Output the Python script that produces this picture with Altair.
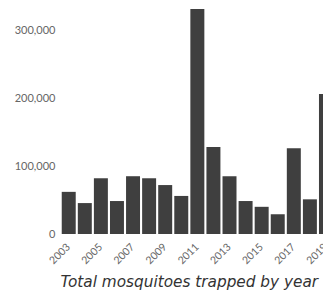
import altair as alt
import pandas as pd

years = [str(y) for y in range(2003, 2020)]
totals = [62000, 45500, 82000, 48500, 85000, 82000, 72000, 56000, 331000,
          128000, 85000, 48500, 40000, 29000, 126000, 51000, 206000]
x_label_values = [str(y) for y in range(2003, 2020, 2)]
y_tick_values = [0, 100000, 200000, 300000]
title_text = "Total mosquitoes trapped by year"

df = pd.DataFrame({"year": years, "total": totals})

chart = alt.Chart(df).mark_bar(color="#3f3f3f", clip=True).encode(
    x=alt.X(
        "year:O",
        scale=alt.Scale(paddingInner=0.13, paddingOuter=0.17, range=[0, 276.7]),
        axis=alt.Axis(
            values=x_label_values,
            labelAngle=-45,
            labelAlign="right",
            labelBaseline="middle",
            labelFont="Lato",
            labelFontSize=10.5,
            labelColor="#666",
            labelPadding=11,
            ticks=False,
            domain=False,
            title=title_text,
            titleFont="DejaVu Sans",
            titleFontStyle="italic",
            titleFontWeight="normal",
            titleFontSize=15.3,
            titleColor="#333",
            titleAnchor="start",
            titleAlign="left",
            titleBaseline="alphabetic",
            titleX=1,
            titleY=52,
        ),
    ),
    y=alt.Y(
        "total:Q",
        scale=alt.Scale(nice=False, domain=[0, 331000]),
        axis=alt.Axis(
            values=y_tick_values,
            format=",.0f",
            labelFont="Lato",
            labelFontSize=11,
            labelColor="#666",
            labelPadding=4,
            ticks=False,
            domain=False,
            grid=False,
            title=None,
        ),
    ),
).properties(
    width=264,
    height=225,
    autosize=alt.AutoSizeParams(type="none"),
    padding={"left": 51, "top": 1, "right": 0, "bottom": 57},
).configure_view(stroke=None)

chart.save("out.html", embed_options={"renderer": "svg", "actions": False})
